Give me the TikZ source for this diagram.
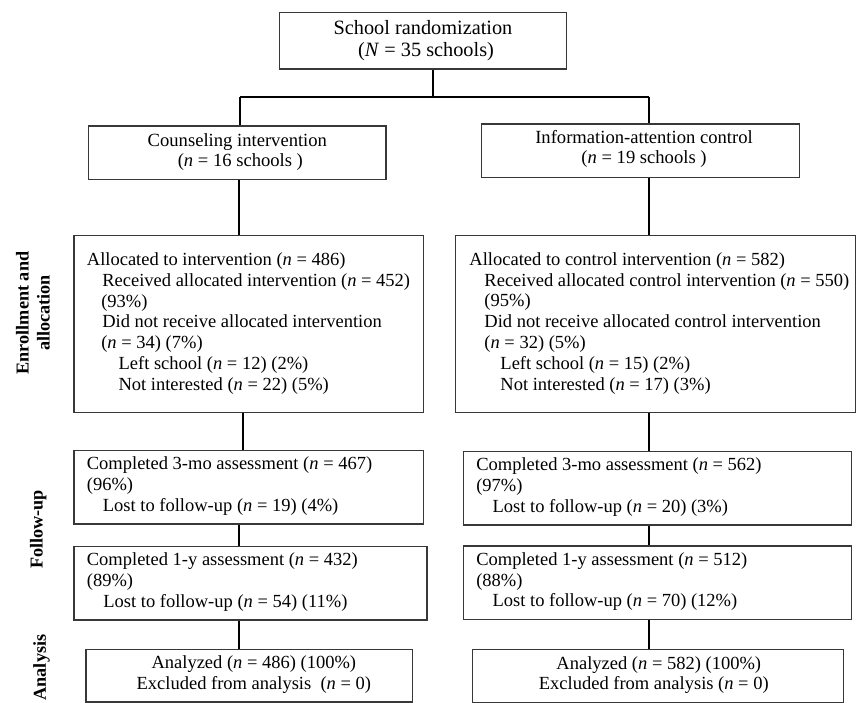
\documentclass[tikz,border=0pt]{standalone}
\usepackage{fontspec}
\setmainfont{Liberation Serif}
\begin{document}
\begin{tikzpicture}[x=1pt,y=-1pt,
  box/.style={draw=black!78, line width=1.2pt, inner sep=0pt},
  conn/.style={draw=black, line width=2pt},
  txt/.style={font=\fontsize{18.5}{20.8}\selectfont, align=left, inner sep=0pt},
  ctxt/.style={font=\fontsize{18.6}{20.6}\selectfont, align=center, inner sep=0pt},
  toptxt/.style={font=\fontsize{20.3}{22.6}\selectfont, align=center, inner sep=0pt},
  side/.style={font=\bfseries\fontsize{18.2}{21}\selectfont, align=center, inner sep=0pt, rotate=90}]
\useasboundingbox (0,0) rectangle (857,703);

% boxes
\node[box, minimum width=287.4pt, minimum height=56.7pt] (top) at (423,40.65) {};
\node[box, minimum width=297.3pt, minimum height=53.3pt] (cons) at (237.35,152.65) {};
\node[box, minimum width=317.6pt, minimum height=53.7pt] (info) at (640.5,150.85) {};
\node[box, minimum width=349.3pt, minimum height=177pt] (al1) at (248.65,324.2) {};
\node[box, minimum width=399.5pt, minimum height=177.2pt] (al2) at (655.6,324.1) {};
\node[box, minimum width=349.3pt, minimum height=73.3pt] (m1) at (248.65,487.35) {};
\node[box, minimum width=388.4pt, minimum height=73.3pt] (m2) at (657.5,488.35) {};
\node[box, minimum width=353pt, minimum height=73.5pt] (y1) at (250.5,583.25) {};
\node[box, minimum width=388.4pt, minimum height=73.3pt] (y2) at (657.5,582.65) {};
\node[box, minimum width=326.7pt, minimum height=52.7pt] (an1) at (249.35,675.65) {};
\node[box, minimum width=371pt, minimum height=53.4pt] (an2) at (657.8,676) {};

% texts
\node[toptxt] (topt) at (top.center) {School randomization\\ \hspace*{6pt}(\textit{N} = 35 schools)};
\node[ctxt] (const) at ([yshift=0.8pt]cons.center) {Counseling intervention\\ \hspace*{6pt}(\textit{n} = 16 schools )};
\node[ctxt] (infot) at ([xshift=3.5pt,yshift=2pt]info.center) {Information-attention control\\ (\textit{n} = 19 schools )};

\node[txt, anchor=west] (al1t) at ([xshift=13.3pt,yshift=0.8pt]al1.west) {Allocated to intervention (\textit{n} = 486)\\
\hspace*{15.4pt}Received allocated intervention (\textit{n} = 452)\\
\hspace*{14.4pt}(93\%)\\
\hspace*{15.4pt}Did not receive allocated intervention\\
\hspace*{14.4pt}(\textit{n} = 34) (7\%)\\
\hspace*{31.7pt}Left school (\textit{n} = 12) (2\%)\\
\hspace*{31.7pt}Not interested (\textit{n} = 22) (5\%)};

\node[txt, anchor=west] (al2t) at ([xshift=14pt,yshift=0.8pt]al2.west) {Allocated to control intervention (\textit{n} = 582)\\
\hspace*{15pt}Received allocated control intervention (\textit{n} = 550)\\
\hspace*{15pt}(95\%)\\
\hspace*{15pt}Did not receive allocated control intervention\\
\hspace*{15pt}(\textit{n} = 32) (5\%)\\
\hspace*{31pt}Left school (\textit{n} = 15) (2\%)\\
\hspace*{31pt}Not interested (\textit{n} = 17) (3\%)};

\node[txt, anchor=west] (m1t) at ([xshift=13.3pt,yshift=1pt]m1.west) {Completed 3-mo assessment (\textit{n} = 467)\\
(96\%)\\
\hspace*{16pt}Lost to follow-up (\textit{n} = 19) (4\%)};
\node[txt, anchor=west] (m2t) at ([xshift=13.4pt,yshift=1pt]m2.west) {Completed 3-mo assessment (\textit{n} = 562)\\
(97\%)\\
\hspace*{16.3pt}Lost to follow-up (\textit{n} = 20) (3\%)};
\node[txt, anchor=west] (y1t) at ([xshift=13.3pt,yshift=1pt]y1.west) {Completed 1-y assessment (\textit{n} = 432)\\
(89\%)\\
\hspace*{16.5pt}Lost to follow-up (\textit{n} = 54) (11\%)};
\node[txt, anchor=west] (y2t) at ([xshift=13.4pt,yshift=1pt]y2.west) {Completed 1-y assessment (\textit{n} = 512)\\
(88\%)\\
\hspace*{16.3pt}Lost to follow-up (\textit{n} = 70) (12\%)};

\node[txt, align=center] (an1t) at ([xshift=4.5pt,yshift=1pt]an1.center) {Analyzed (\textit{n} = 486) (100\%)\\ Excluded from analysis\ \ (\textit{n} = 0)};
\node[txt, align=center] (an2t) at ([xshift=-4pt,yshift=1pt]an2.center) {\hspace*{10pt}Analyzed (\textit{n} = 582) (100\%)\\ Excluded from analysis (\textit{n} = 0)};

% side labels
\node[side] (lab1) at (33,313) {Enrollment and\\ allocation};
\node[side] (lab2) at (38.3,529.5) {Follow-up};
\node[side] (lab3) at (41.5,667.5) {Analysis};

% connectors
\coordinate (jT) at (433.3,96.7);
\coordinate (jL) at (240,96.7);
\coordinate (jR) at (649.3,96.7);
\coordinate (xa) at (239,0);
\coordinate (xb) at (242.7,0);
\coordinate (xc) at (238.7,0);
\draw[conn] (top.south -| jT) -- (jT);
\draw[conn] (jL) -- (jR);
\draw[conn] (jL) -- (cons.north -| jL);
\draw[conn] (jR) -- (info.north -| jR);
\draw[conn] (cons.south -| xa) -- (al1.north -| xa);
\draw[conn] (al1.south -| xb) -- (m1.north -| xb);
\draw[conn] (m1.south -| xc) -- (y1.north -| xc);
\draw[conn] (y1.south -| xc) -- (an1.north -| xc);
\draw[conn] (info.south -| jR) -- (al2.north -| jR);
\draw[conn] (al2.south -| jR) -- (m2.north -| jR);
\draw[conn] (m2.south -| jR) -- (y2.north -| jR);
\draw[conn] (y2.south -| jR) -- (an2.north -| jR);
\end{tikzpicture}
\end{document}
